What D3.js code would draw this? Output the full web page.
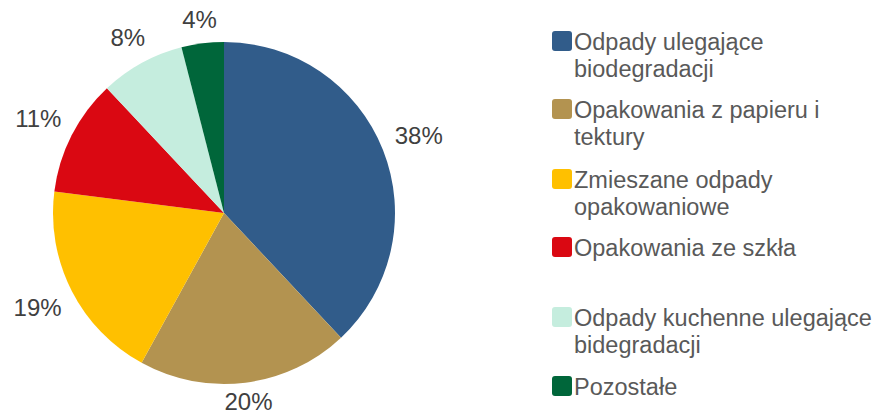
<!DOCTYPE html>
<html>
<head>
<meta charset="utf-8">
<script src="https://cdn.jsdelivr.net/npm/d3@7"></script>
<style>
  body { margin: 0; background: #fff; }
  svg { display: block; font-family: "Liberation Sans", Arial, sans-serif; }
</style>
</head>
<body>
<svg id="chart"></svg>
<script>
// Data
const categories = [
  ["Odpady ulegające", "biodegradacji"],
  ["Opakowania z papieru i", "tektury"],
  ["Zmieszane odpady", "opakowaniowe"],
  ["Opakowania ze szkła"],
  ["Odpady kuchenne ulegające", "bidegradacji"],
  ["Pozostałe"]
];
const shares = [38, 20, 19, 11, 8, 4];
const labels = ["38%", "20%", "19%", "11%", "8%", "4%"];
const colors = ["#315C8A", "#B39350", "#FFC000", "#DA0812", "#C5EDDE", "#00663A"];

// Configuration
const width = 879, height = 414;
const cx = 224, cy = 213, radius = 171;
const labelGap = 13; // space between pie edge and label box
const labelHalfHeight = 8.5;
const legendX = 552, legendTops = [31, 99, 169, 237, 307, 376];

const svg = d3.select("#chart")
  .attr("width", width)
  .attr("height", height)
  .attr("viewBox", [0, 0, width, height]);

const pie = d3.pie().sort(null).value(d => d);
const arcs = pie(shares);
const arc = d3.arc().innerRadius(0).outerRadius(radius);

const g = svg.append("g").attr("transform", `translate(${cx},${cy})`);

g.selectAll("path")
  .data(arcs)
  .join("path")
  .attr("d", arc)
  .attr("fill", (d, i) => colors[i]);

// labels sit just outside the pie, pushed out by the size of their box
g.selectAll("text")
  .data(arcs)
  .join("text")
  .attr("text-anchor", "middle")
  .attr("dy", "0.35em")
  .attr("fill", "#404040")
  .attr("font-size", 24)
  .text((d, i) => labels[i])
  .attr("transform", function(d) {
    const a = (d.startAngle + d.endAngle) / 2;
    const w = this.getComputedTextLength() / 2;
    const r = radius + labelGap + Math.abs(w * Math.sin(a)) + Math.abs(labelHalfHeight * Math.cos(a));
    // keep the bottom label inside the picture
    return `translate(${r * Math.sin(a)},${Math.min(-r * Math.cos(a), height - cy - 12)})`;
  });

// Legend
const legend = svg.append("g")
  .selectAll("g")
  .data(categories)
  .join("g")
  .attr("transform", (d, i) => `translate(${legendX},${legendTops[i]})`);

legend.append("rect")
  .attr("width", 20)
  .attr("height", 20)
  .attr("rx", 3)
  .attr("fill", (d, i) => colors[i]);

legend.append("text")
  .attr("fill", "#595959")
  .attr("font-size", 23.5)
  .selectAll("tspan")
  .data(d => d)
  .join("tspan")
  .attr("x", 22)
  .attr("y", (d, j) => 18.5 + j * 27)
  .text(d => d);
</script>
</body>
</html>
